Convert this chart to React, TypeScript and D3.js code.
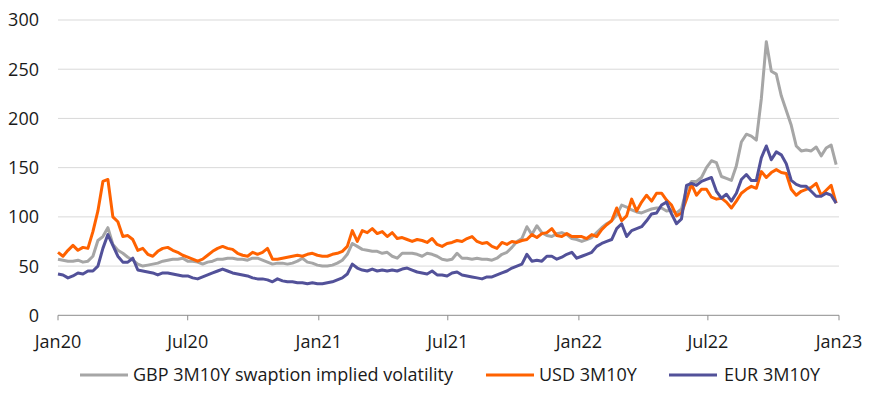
import React from 'react';
import * as d3 from 'd3';

// Weekly observations starting 1 Jan 2020
const START_DATE = new Date(2020, 0, 1);

const gbpVol = [
  57, 56, 55, 55, 56, 54, 55, 60, 76, 80, 89, 72, 66, 63, 59, 56, 52, 50, 51, 52, 53, 55, 56, 57, 57, 58,
  55, 55, 54, 52, 54, 55, 57, 57, 58, 58, 57, 57, 56, 58, 58, 56, 54, 52, 53, 53, 52, 53, 55, 58, 54, 53,
  51, 50, 50, 51, 53, 56, 62, 73, 70, 67, 66, 65, 65, 63, 64, 60, 58, 63, 63, 63, 62, 60, 63, 62, 60, 57,
  56, 57, 63, 58, 58, 57, 58, 57, 57, 56, 58, 62, 64, 69, 75, 78, 90, 82, 91, 84, 81, 80, 83, 84, 82, 78,
  77, 75, 77, 79, 84, 89, 93, 96, 102, 112, 110, 107, 105, 104, 106, 108, 109, 109, 106, 107, 104, 108, 128, 136, 136, 140,
  150, 157, 155, 141, 139, 137, 152, 176, 184, 182, 178, 220, 278, 248, 245, 223, 208, 193, 172, 167, 168, 167, 171, 162, 170, 173, 153,
];

const usdVol = [
  64, 60, 66, 71, 66, 69, 68, 85, 106, 136, 138, 100, 95, 80, 81, 77, 66, 68, 62, 60, 65, 68, 69, 66, 64, 61,
  59, 57, 55, 57, 61, 65, 68, 70, 68, 67, 63, 61, 60, 64, 62, 64, 68, 57, 57, 58, 59, 60, 61, 60, 62, 63,
  61, 60, 60, 62, 63, 65, 70, 86, 75, 86, 84, 88, 83, 85, 80, 84, 78, 79, 77, 75, 77, 76, 74, 78, 72, 70,
  73, 74, 76, 75, 78, 80, 75, 73, 74, 70, 68, 74, 72, 75, 74, 76, 77, 82, 79, 83, 84, 88, 81, 80, 83, 80,
  80, 80, 78, 82, 80, 87, 92, 96, 109, 96, 101, 118, 106, 115, 122, 116, 124, 124, 117, 112, 101, 104, 118, 133, 122, 128,
  128, 120, 118, 119, 115, 109, 116, 124, 128, 131, 129, 146, 140, 145, 148, 145, 144, 128, 122, 126, 128, 130, 134, 122, 127, 132, 114,
];

const eurVol = [
  42, 41, 38, 40, 43, 42, 45, 45, 50, 68, 82, 71, 60, 54, 54, 58, 46, 45, 44, 43, 41, 43, 43, 42, 41, 40,
  40, 38, 37, 39, 41, 43, 45, 47, 45, 43, 42, 41, 40, 38, 37, 37, 36, 34, 37, 35, 34, 34, 33, 33, 32, 33,
  32, 32, 33, 34, 36, 38, 42, 52, 48, 46, 45, 47, 45, 46, 45, 46, 45, 47, 48, 46, 44, 43, 42, 45, 41, 41,
  40, 43, 44, 41, 40, 39, 38, 37, 39, 39, 41, 43, 45, 48, 50, 52, 62, 55, 56, 55, 60, 60, 57, 59, 62, 64,
  58, 60, 62, 64, 70, 73, 75, 77, 88, 93, 80, 86, 88, 90, 96, 103, 104, 112, 115, 103, 93, 98, 132, 134, 132, 136,
  138, 140, 126, 119, 123, 116, 124, 138, 143, 137, 137, 160, 172, 158, 166, 163, 154, 137, 133, 131, 131, 126, 121, 121, 124, 122, 114,
];

const seriesNames = ['GBP 3M10Y swaption implied volatility', 'USD 3M10Y', 'EUR 3M10Y'];
const seriesColors = ['#a6a6a6', '#ff6200', '#525199'];

const yTicks = [0, 50, 100, 150, 200, 250, 300];
const xTickLabels = ['Jan20', 'Jul20', 'Jan21', 'Jul21', 'Jan22', 'Jul22', 'Jan23'];
const xTickDates = [
  new Date(2020, 0, 1), new Date(2020, 6, 1), new Date(2021, 0, 1), new Date(2021, 6, 1),
  new Date(2022, 0, 1), new Date(2022, 6, 1), new Date(2023, 0, 1),
];

const W = 879;
const H = 395;
const FONT = "'Open Sans', sans-serif";

export default function App() {
  const x = d3.scaleTime().domain([new Date(2020, 0, 1), new Date(2023, 0, 1)]).range([58, 839]);
  const y = d3.scaleLinear().domain([0, 300]).range([315.3, 20]);
  const dates = gbpVol.map((_, i) => d3.timeDay.offset(START_DATE, i * 7));
  const allSeries = [gbpVol, usdVol, eurVol];
  const line = d3.line<number>().x((_, i) => x(dates[i])).y((d) => y(d)).curve(d3.curveLinear);

  const legendItems = [
    { lx: 80, tx: 133 },
    { lx: 486, tx: 539 },
    { lx: 669, tx: 724 },
  ];

  return (
    <svg width={W} height={H} style={{ position: 'absolute', left: 0, top: 0, background: '#fff' }} fontFamily={FONT}>
      {yTicks.filter((t) => t > 0).map((t) => (
        <line key={t} x1={58} x2={839} y1={y(t)} y2={y(t)} stroke="#d9d9d9" strokeWidth={1} />
      ))}
      {yTicks.map((t) => (
        <text key={t} x={39} y={y(t)} dy="0.36em" textAnchor="end" fontSize={18} fill="#1a1a1a">{t}</text>
      ))}
      <line x1={58} x2={839} y1={y(0)} y2={y(0)} stroke="#8c8c8c" strokeWidth={1} />
      {xTickDates.map((d, i) => (
        <g key={i}>
          <line x1={x(d)} x2={x(d)} y1={y(0)} y2={y(0) + 5} stroke="#8c8c8c" strokeWidth={1} />
          <text x={x(d)} y={341.5} dy="0.36em" textAnchor="middle" fontSize={18} fill="#1a1a1a">{xTickLabels[i]}</text>
        </g>
      ))}
      {allSeries.map((s, k) => (
        <path key={k} d={line(s) || ''} fill="none" stroke={seriesColors[k]} strokeWidth={3} strokeLinejoin="round" />
      ))}
      {legendItems.map((it, k) => (
        <g key={k}>
          <line x1={it.lx} x2={it.lx + 48} y1={375} y2={375} stroke={seriesColors[k]} strokeWidth={3} />
          <text x={it.tx} y={375} dy="0.36em" fontSize={18} fill="#1a1a1a">{seriesNames[k]}</text>
        </g>
      ))}
    </svg>
  );
}
